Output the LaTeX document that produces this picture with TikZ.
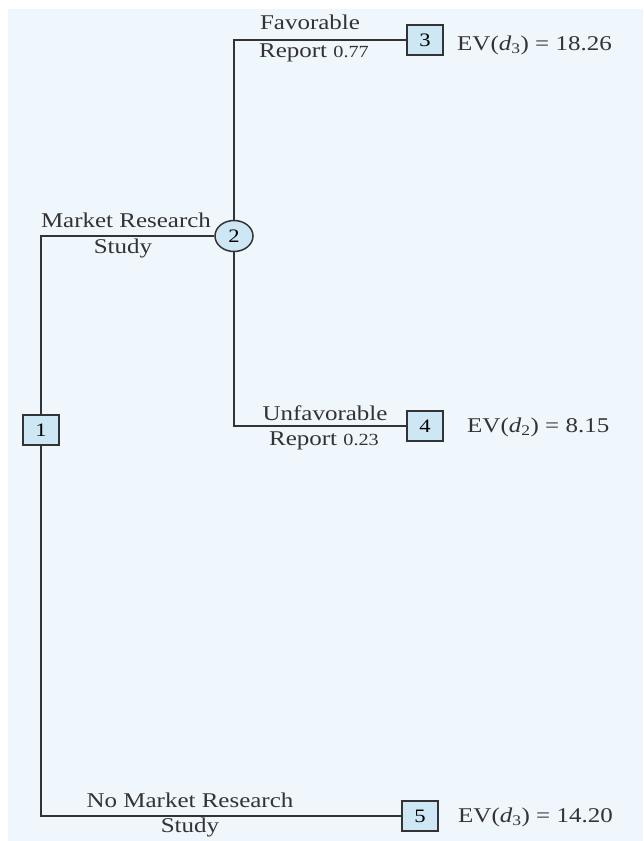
\documentclass[tikz,border=0pt]{standalone}
\usepackage{fontspec}
\setmainfont[FakeStretch=1.19]{Liberation Serif}
\usetikzlibrary{positioning,shapes.geometric}
\definecolor{paper}{HTML}{EFF6FC}
\definecolor{boxblue}{HTML}{CDE7F5}
\definecolor{ink}{HTML}{333333}
\tikzset{decbox/.style={draw=ink,fill=boxblue,line width=1.5pt,minimum width=36pt,minimum height=30pt,inner sep=0pt,font=\fontsize{19}{21}\selectfont},
chancenode/.style={ellipse,draw=ink,fill=boxblue,line width=1.5pt,minimum width=38pt,minimum height=31pt,inner sep=0pt,font=\fontsize{19}{21}\selectfont},
lbl/.style={font=\fontsize{21}{23}\selectfont,text=ink,inner sep=0pt,anchor=base},
branch/.style={draw=ink,line width=1.5pt}}
\newcommand{\ev}[2]{EV(\textit{d}\textsubscript{#1}) = #2}
\newcommand{\prob}[1]{{\fontsize{17}{19}\selectfont #1}}

\begin{document}
\begin{tikzpicture}[x=1pt,y=-1pt]
\fill[white] (0,0) rectangle (643,841);\fill[paper] (8,9) rectangle (643,841);
% decision and chance nodes
\node[decbox] (n1) at (41,430) {1};
\node[chancenode] (n2) at (234,236) {2};
\node[decbox] (n3) at (425,40) {3};
\node[decbox] (n4) at (425,426) {4};
\node[decbox] (n5) at (420,816) {5};
\draw[branch] (n1.north) |- (n2.west);\draw[branch] (n1.south) |- (n5.west);
\draw[branch] (n2.north) |- (n3.west);\draw[branch] (n2.south) |- (n4.west);
% branch labels
\node[lbl] (fav) at (310,29) {Favorable};
\node[lbl] (favp) at (314,57) {Report \prob{0.77}};
\node[lbl] (mrs) at (126,227) {Market Research};
\node[lbl] (mrsb) at (123,253) {Study};
\node[lbl] (unf) at (325,420) {Unfavorable};
\node[lbl] (unfp) at (324,445) {Report \prob{0.23}};
\node[lbl] (nmr) at (190,807) {No Market Research};
\node[lbl] (nmrb) at (190,832) {Study};
% expected values
\node[lbl,anchor=base west] (ev3) at (457,50) {\ev{3}{18.26}};
\node[lbl,anchor=base west] (ev4) at (467,432) {\ev{2}{8.15}};
\node[lbl,anchor=base west] (ev5) at (458,822) {\ev{3}{14.20}};
\end{tikzpicture}
\end{document}
